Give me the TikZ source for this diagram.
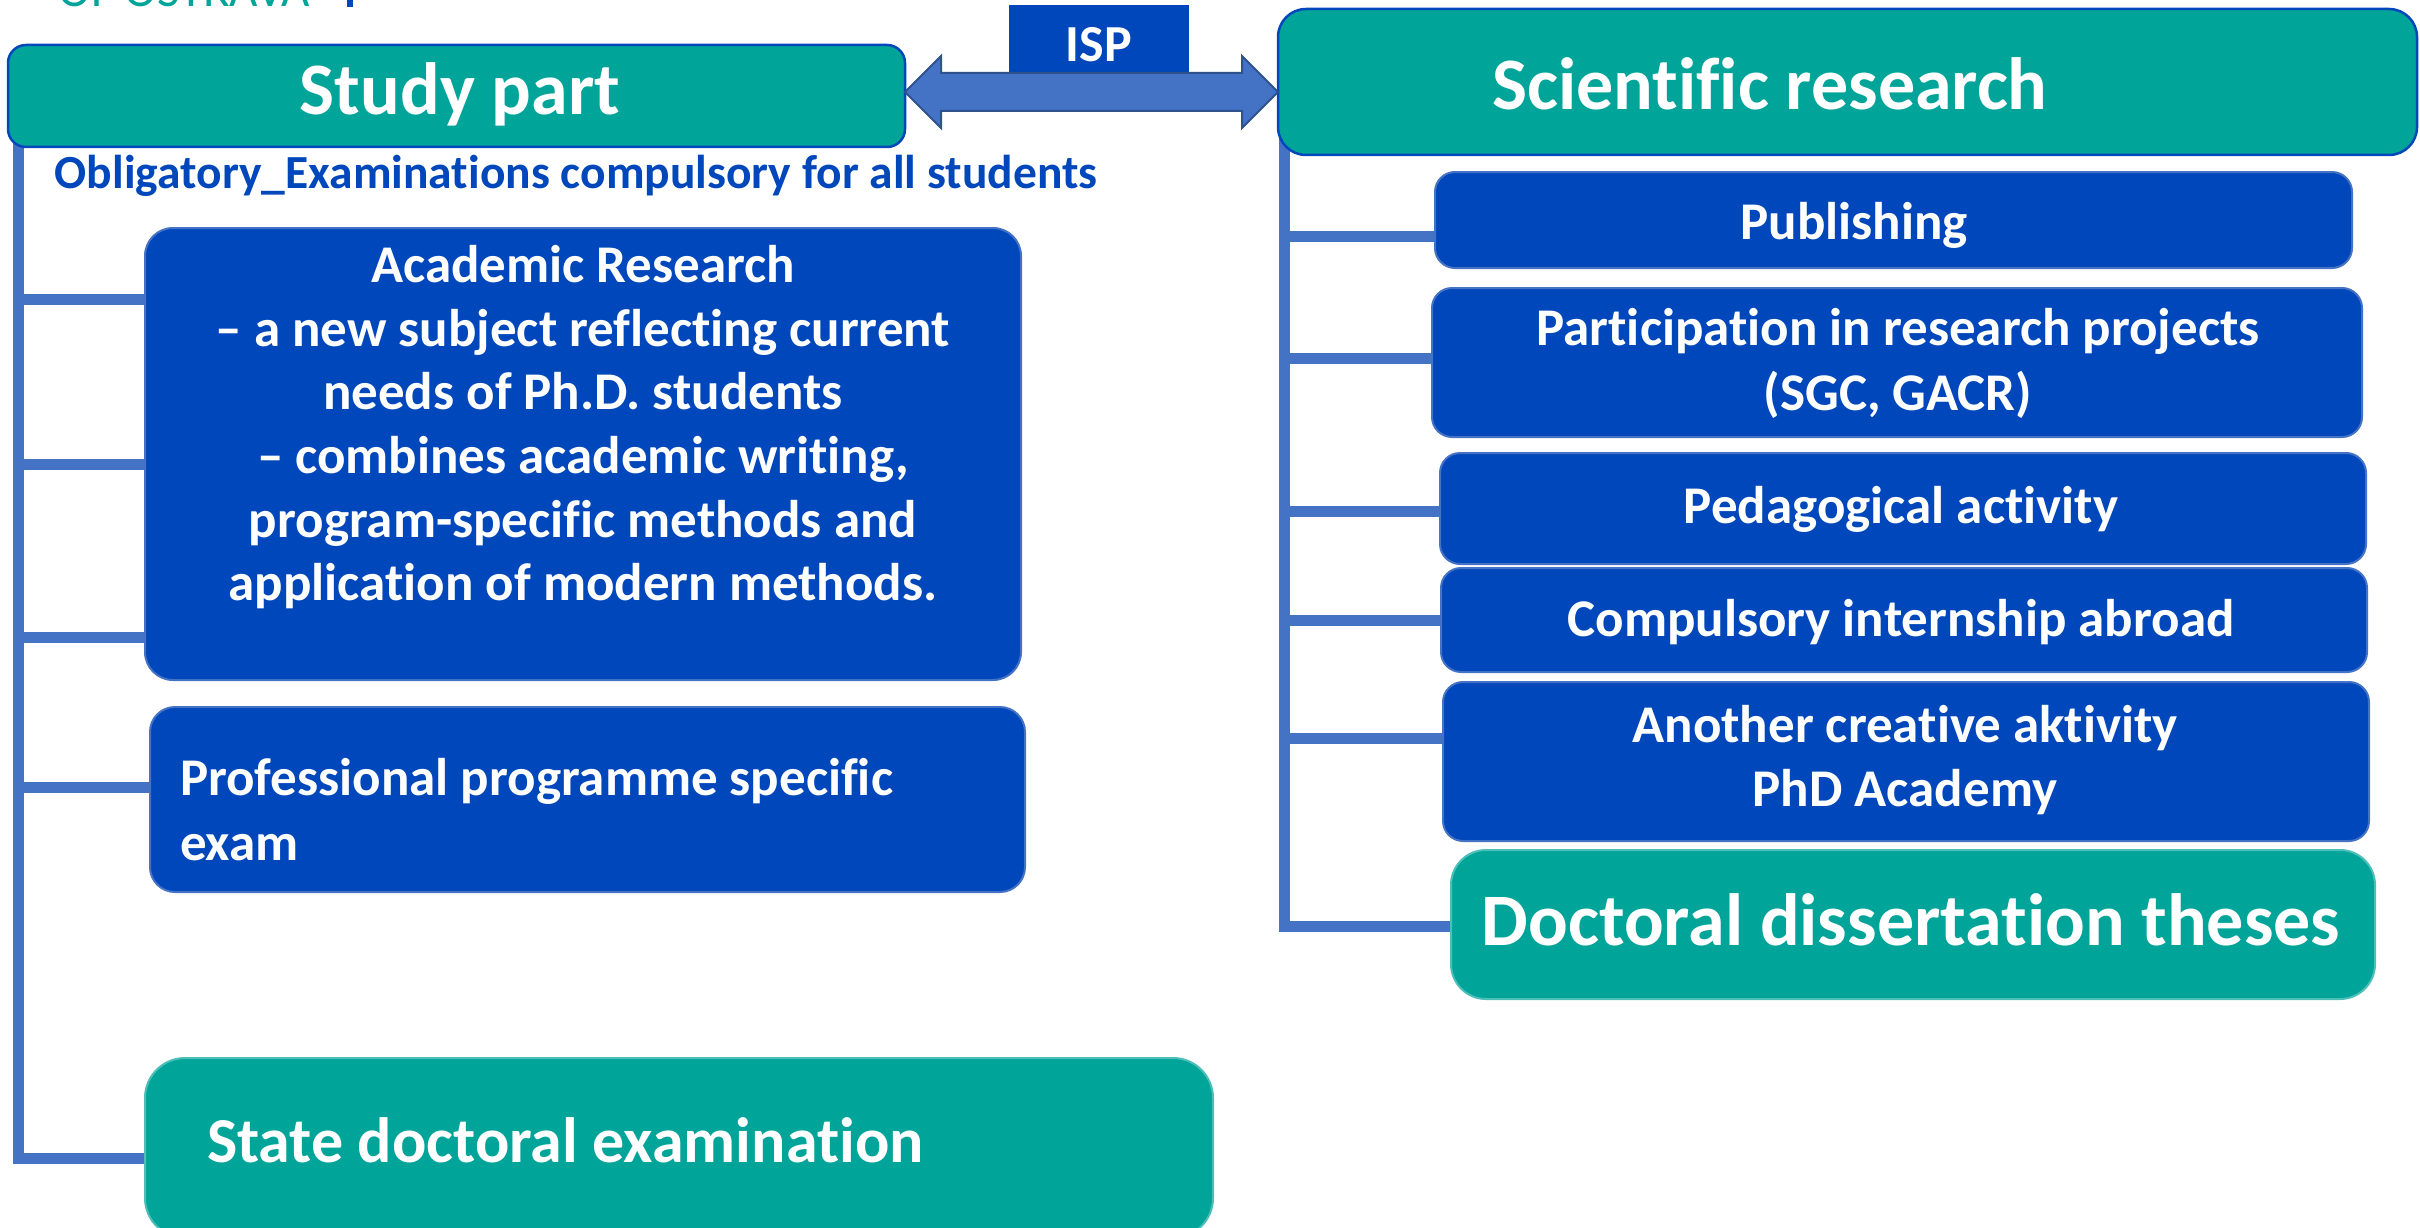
\documentclass[tikz,border=0pt]{standalone}
\usepackage{fontspec}
\setmainfont{Carlito}[Ligatures=NoCommon]
\usetikzlibrary{calc,fit,backgrounds}
\definecolor{dblue}{HTML}{0047BB}
\definecolor{tealc}{HTML}{00A499}
\definecolor{lblue}{HTML}{4472C4}
\definecolor{ablue}{HTML}{2F528F}
\begin{document}
\begin{tikzpicture}[x=1pt,y=-1pt,
  every node/.style={inner sep=0pt, outer sep=0pt},
  boxb/.style={fill=dblue, draw=lblue, line width=2pt, rounded corners=20pt},
  boxt/.style={fill=tealc, draw=tealc!70!white, line width=2pt, rounded corners=35pt},
  headbox/.style={fill=tealc, draw=dblue, line width=2.5pt, rounded corners=18pt},
  conn/.style={draw=lblue, line width=11pt, line join=miter},
  dblarrow/.style={fill=lblue, draw=ablue, line width=2pt, line join=miter},
  wtxt/.style={text=white, font=\fontsize{53}{64}\selectfont\bfseries},
  bigtxt/.style={text=white, font=\fontsize{74}{88}\selectfont\bfseries}
]
\useasboundingbox (0,0) rectangle (2420,1228);

% cut-off header text at the very top
\node[text=tealc, font=\fontsize{49}{56}\selectfont, anchor=base east] (logo) at (310,7) {OF OSTRAVA};
\fill[dblue] (347,-20) rectangle (353,7);

% boxes
\node[headbox, fit={(8,45)(905,147)}] (study) {};
\node[headbox, rounded corners=28pt, fit={(1278,9)(2417,155)}] (sci) {};
\node[fill=dblue, fit={(1009,5)(1189,74)}] (isp) {};
\node[boxb, rounded corners=28pt, fit={(145,228)(1021,680)}] (acad) {};
\node[boxb, rounded corners=25pt, fit={(150,707)(1025,892)}] (prof) {};
\node[boxt, rounded corners=40pt, fit={(145,1058)(1213,1238)}] (state) {};

\node[boxb, fit={(1435,172)(2352,268)}] (pub) {};
\node[boxb, fit={(1432,288)(2362,437)}] (part) {};
\node[boxb, fit={(1440,453)(2366,564)}] (ped) {};
\node[boxb, fit={(1441,568)(2367,672)}] (comp) {};
\node[boxb, fit={(1443,682)(2369,841)}] (anot) {};
\node[boxt, fit={(1451,850)(2375,999)}] (diss) {};

% connectors (behind the boxes)
\begin{pgfonlayer}{background}
  \coordinate (lt) at (18,138);
  \coordinate (lb) at (18,1158);
  \coordinate (l1) at (18,299);
  \coordinate (l2) at (18,464);
  \coordinate (l3) at (18,637);
  \coordinate (l4) at (18,787);
  \draw[conn] (lt) -- (lb) -- (lb -| state.west);
  \draw[conn] (l1) -- (l1 -| acad.west);
  \draw[conn] (l2) -- (l2 -| acad.west);
  \draw[conn] (l3) -- (l3 -| acad.west);
  \draw[conn] (l4) -- (l4 -| prof.west);

  \coordinate (rt) at (1284,132);
  \coordinate (rb) at (1284,926);
  \coordinate (r1) at (1284,236);
  \coordinate (r2) at (1284,358);
  \coordinate (r3) at (1284,511);
  \coordinate (r4) at (1284,620);
  \coordinate (r5) at (1284,738);
  \draw[conn] (rt) -- (rb) -- (rb -| diss.west);
  \draw[conn] (r1) -- (r1 -| pub.west);
  \draw[conn] (r2) -- (r2 -| part.west);
  \draw[conn] (r3) -- (r3 -| ped.west);
  \draw[conn] (r4) -- (r4 -| comp.west);
  \draw[conn] (r5) -- (r5 -| anot.west);
\end{pgfonlayer}

% double arrow between the two headers
\coordinate (ay) at (0,92);
\coordinate (tL) at (study.east |- ay);
\coordinate (tR) at (sci.west |- ay);
\draw[dblarrow] (tL) -- ++(36,-36) -- ++(0,17) -- ($(tR)+(-36,-19)$) -- ++(0,-17)
  -- (tR) -- ++(-36,36) -- ++(0,-17) -- ($(tL)+(36,19)$) -- ++(0,17) -- cycle;

% texts
\node[bigtxt, anchor=base] (studyT) at (460,115) {Study part};
\node[bigtxt, anchor=base] (sciT) at (1770,110) {Scientific research};
\node[text=white, font=\fontsize{52}{60}\selectfont\bfseries, anchor=base] (ispT) at (1099,62) {ISP};
\node[text=dblue, font=\fontsize{47.5}{56}\selectfont\bfseries, anchor=base] (oblig) at (576,188)
  {Obligatory\_Examinations compulsory for all students};

\node[wtxt, font=\fontsize{53}{63.6}\selectfont\bfseries, align=center] (acadT) at (583,429)
  {\strut Academic Research\\
   \strut – a new subject reflecting current\\
   \strut needs of Ph.D. students\\
   \strut – combines academic writing,\\
   \strut program-specific methods and\\
   \strut application of modern methods.};
\node[wtxt, font=\fontsize{53}{65}\selectfont\bfseries, align=left, anchor=west] (profT) at (180,814.5)
  {\strut Professional programme specific\\ \strut exam};
\node[text=white, font=\fontsize{64}{76}\selectfont\bfseries, anchor=base west] (stateT) at (207,1162)
  {State doctoral examination};

\node[wtxt, anchor=base] (pubT) at (1854,239) {Publishing};
\node[wtxt, font=\fontsize{53}{65}\selectfont\bfseries, align=center] (partT) at (1898,364.5)
  {\strut Participation in research projects\\ \strut (SGC, GACR)};
\node[wtxt, anchor=base] (pedT) at (1901,523) {Pedagogical activity};
\node[wtxt, anchor=base] (compT) at (1901,636) {Compulsory internship abroad};
\node[wtxt, font=\fontsize{53}{64}\selectfont\bfseries, align=center] (anotT) at (1905,762)
  {\strut Another creative aktivity\\ \strut PhD Academy};
\node[bigtxt, anchor=base] (dissT) at (1911,945) {Doctoral dissertation theses};
\end{tikzpicture}
\end{document}
